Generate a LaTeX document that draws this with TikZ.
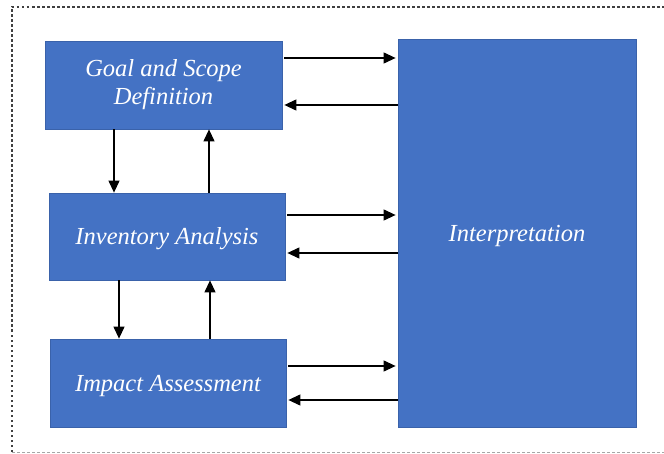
\documentclass[tikz,border=0pt]{standalone}
\usepackage{fontspec}
\setmainfont{Liberation Serif}
\usetikzlibrary{arrows.meta}
\definecolor{boxblue}{HTML}{4472C4}
\definecolor{boxedge}{HTML}{3A62AA}
\begin{document}
\begin{tikzpicture}[x=1pt,y=-1pt,
  blk/.style={draw=boxedge,line width=0.8pt,fill=boxblue,text=white,align=center,
    inner sep=0pt,font=\fontsize{24.5}{29}\selectfont\itshape},
  one/.style={text height=17pt,text depth=0pt},
  arr/.style={draw=black,line width=1.2pt,-{Triangle[length=12pt,width=11pt]}}]
\useasboundingbox (0,0) rectangle (664,454);
% frame
\draw[line width=1.2pt,dash pattern=on 2.5pt off 2.5pt,black!75] (12,452) -- (12,7) -- (664,7);
\draw[line width=0.8pt,dash pattern=on 3pt off 2pt,black!35] (12,452) -- (664,452);
% boxes
\node[blk,minimum width=237pt,minimum height=88pt] (goal) at (163.5,85) {Goal and Scope\\[-1pt]Definition};
\node[blk,one,minimum width=236pt,minimum height=87pt] (inv) at (167,236.5) {Inventory Analysis};
\node[blk,one,minimum width=236pt,minimum height=88pt] (imp) at (168,383) {Impact Assessment};
\node[blk,one,minimum width=238pt,minimum height=388pt] (int) at (517,233) {Interpretation};
% horizontal arrows
\draw[arr] ([xshift=2pt]goal.east |- 0,58) -- ([xshift=-2pt]int.west |- 0,58);
\draw[arr] (int.west |- 0,105) -- ([xshift=2pt]goal.east |- 0,105);
\draw[arr] ([xshift=2pt]inv.east |- 0,215) -- ([xshift=-2pt]int.west |- 0,215);
\draw[arr] (int.west |- 0,253) -- ([xshift=2pt]inv.east |- 0,253);
\draw[arr] ([xshift=2pt]imp.east |- 0,366) -- ([xshift=-2pt]int.west |- 0,366);
\draw[arr] (int.west |- 0,400) -- ([xshift=2pt]imp.east |- 0,400);
% vertical arrows
\draw[arr] (goal.south -| 114,0) -- (inv.north -| 114,0);
\draw[arr] (inv.north -| 209,0) -- (goal.south -| 209,0);
\draw[arr] (inv.south -| 119,0) -- (imp.north -| 119,0);
\draw[arr] (imp.north -| 210,0) -- (inv.south -| 210,0);
\end{tikzpicture}
\end{document}
